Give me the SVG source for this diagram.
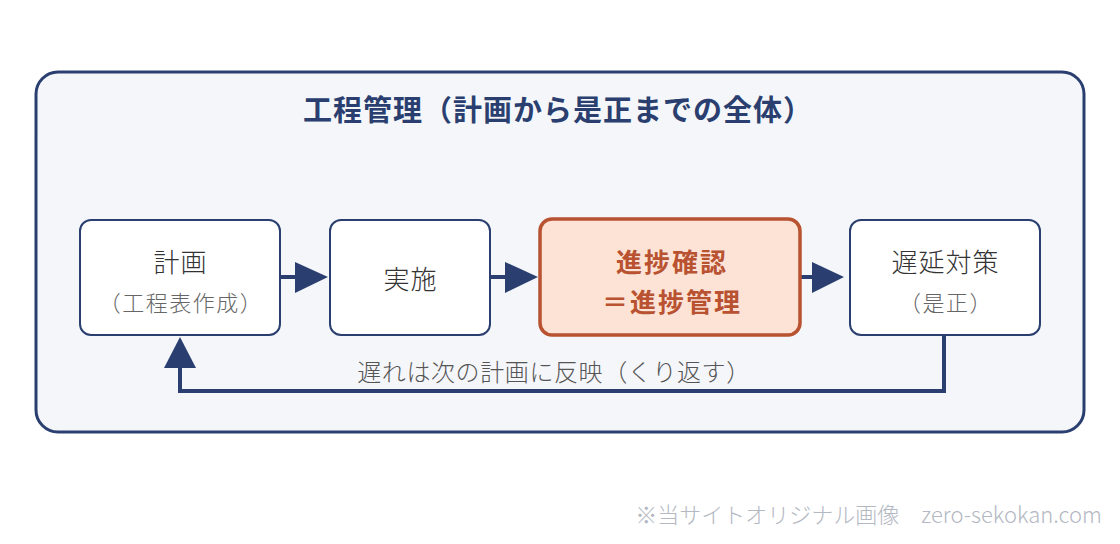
<svg xmlns="http://www.w3.org/2000/svg" width="1120" height="544" viewBox="0 0 1120 544">
<defs>
<style>
.t{font-family:"Noto Sans CJK JP","Noto Sans",sans-serif;text-anchor:middle;dominant-baseline:central}
.box{fill:#ffffff;stroke:#2a3f6f;stroke-width:2}
.main{font-size:26px;fill:#333333;font-weight:300;letter-spacing:1px}
.sub{font-size:22px;fill:#666666;font-weight:300;letter-spacing:1.5px}
.hl{font-size:26px;fill:#b85231;font-weight:bold;letter-spacing:2px}
.conn{stroke:#2a3f6f;stroke-width:4;fill:none}
.ah{fill:#2a3f6f}
</style>
</defs>
<rect x="0" y="0" width="1120" height="544" fill="#ffffff"/>
<rect x="36" y="72" width="1048" height="360" rx="22" fill="#f4f6fa" stroke="#2a3f6f" stroke-width="3"/>
<text class="t" x="558" y="108" font-size="29" font-weight="bold" fill="#2a3f6f" letter-spacing="1">工程管理（計画から是正までの全体）</text>
<g id="connectors">
<line class="conn" x1="280" y1="277" x2="298" y2="277"/>
<polygon class="ah" points="295,262 328,277 295,293"/>
<line class="conn" x1="490" y1="277" x2="508" y2="277"/>
<polygon class="ah" points="505,262 538,277 505,293"/>
<line class="conn" x1="800" y1="277" x2="815" y2="277"/>
<polygon class="ah" points="812,262 844,277 812,293"/>
<polyline class="conn" points="944,336 944,391 180,391 180,364"/>
<polygon class="ah" points="164,368 180,337 196,368"/>
<text class="t" x="554" y="370" font-size="24" font-weight="300" fill="#555555" letter-spacing="0.6">遅れは次の計画に反映（くり返す）</text>
</g>
<g id="node-plan">
<rect class="box" x="80" y="220" width="200" height="115" rx="11"/>
<text class="t main" x="180.5" y="260">計画</text>
<text class="t sub" x="181" y="301">（工程表作成）</text>
</g>
<g id="node-exec">
<rect class="box" x="330" y="220" width="160" height="115" rx="11"/>
<text class="t main" x="410.5" y="277">実施</text>
</g>
<g id="node-progress">
<rect x="540" y="219" width="260" height="116" rx="12" fill="#fde3d6" stroke="#b85231" stroke-width="3.5"/>
<text class="t hl" x="672" y="260">進捗確認</text>
<text class="t hl" x="672" y="300">＝進捗管理</text>
</g>
<g id="node-delay">
<rect class="box" x="850" y="220" width="190" height="115" rx="11"/>
<text class="t main" x="945.5" y="260">遅延対策</text>
<text class="t sub" x="946" y="301">（是正）</text>
</g>
<text x="1102" y="523" font-family="'Noto Sans CJK JP','Noto Sans',sans-serif" font-size="22" font-weight="300" fill="#b3b8c2" text-anchor="end">※当サイトオリジナル画像　zero-sekokan.com</text>
</svg>
